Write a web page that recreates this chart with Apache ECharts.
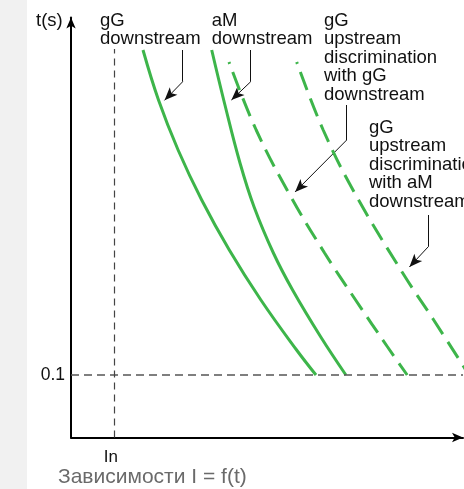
<!DOCTYPE html>
<html>
<head>
<meta charset="utf-8">
<script src="https://cdn.jsdelivr.net/npm/echarts@6/dist/echarts.min.js"></script>
<style>
  html, body { margin: 0; padding: 0; background: #fff; }
  #chart { width: 464px; height: 489px; }
</style>
</head>
<body>
<div id="chart"></div>
<script>
// schematic axes: 1 unit = 1 px, x = current I, y = time t
var X_MAX = 392;
var Y_MAX = 420;
var T_01 = 62.5;      // t = 0.1 s
var I_N = 43.3;       // In
var IN_TOP = 388.5;

var yTickLabels = ['0.1'];
var xTickLabels = ['In'];

// time-current curves
var gGDownstream = [[72, 387.5], [87.5, 337.5], [107.1, 287.5], [130.7, 237.5],
                    [158.3, 187.5], [189.9, 137.5], [225.6, 87.5], [245, 62.5]];
var aMDownstream = [[140.7, 387.5], [153.7, 333.5], [169, 274.5], [183.1, 230.5],
                    [202.4, 184.5], [221.6, 147.5], [249.8, 100.5], [274.9, 62.5]];
var gGUpstreamGg = [[158, 375.5], [185.2, 307.5], [220, 240.5], [253.6, 184.5],
                    [284.6, 137.5], [316.6, 90.5], [336.2, 62.5]];
var gGUpstreamAm = [[225.7, 375.5], [252.2, 307.5], [283.7, 244.5], [331.7, 164.5],
                    [362.7, 117.5], [398, 62.5]];

// callouts: [stem top, stem bottom, arrow tip]
var callouts = [
  [[111.7, 387.5], [111.7, 355.8], [89, 332.5]],
  [[179.7, 387.5], [179.7, 355.8], [155.7, 333]],
  [[275.7, 332.5], [275.7, 297.5], [219.5, 241]],
  [[357.3, 222.5], [357.3, 190.8], [334, 165.8]]
];

var GREEN = '#3db54a';
var FONT = "'Liberation Sans', Arial, sans-serif";
var ARROW_W = 8, ARROW_H = 13;

var calloutData = [];
callouts.forEach(function (c) {
  calloutData.push({ coords: [c[0], c[1]], symbol: ['none', 'none'] });
  // pull the end back so the arrow tip lands on the curve
  var dx = c[2][0] - c[1][0], dy = c[2][1] - c[1][1];
  var len = Math.sqrt(dx * dx + dy * dy);
  var k = (len - ARROW_H / 2) / len;
  calloutData.push({
    coords: [c[1], [c[1][0] + dx * k, c[1][1] + dy * k]],
    symbol: ['none', 'arrow'],
    symbolSize: [0, [ARROW_W, ARROW_H]]
  });
});

function curve(name, data, dashed) {
  return {
    name: name,
    type: 'line',
    data: data,
    smooth: 0.4,
    showSymbol: false,
    symbol: 'none',
    silent: true,
    lineStyle: dashed
      ? { color: GREEN, width: 3, type: [19, 9], dashOffset: 17 }
      : { color: GREEN, width: 3 }
  };
}

var series = [
  curve('gG downstream', gGDownstream, false),
  curve('aM downstream', aMDownstream, false),
  curve('gG upstream / gG downstream', gGUpstreamGg, true),
  curve('gG upstream / aM downstream', gGUpstreamAm, true),
  {
    type: 'lines',
    coordinateSystem: 'cartesian2d',
    silent: true,
    lineStyle: { color: '#111', width: 1, opacity: 1, curveness: 0 },
    data: calloutData,
    z: 3
  }
];

series[0].markLine = {
  silent: true,
  symbol: ['none', 'none'],
  label: { show: false },
  data: [
    [{ coord: [0, T_01], lineStyle: { color: '#555', width: 1.6, type: [8, 5] } },
     { coord: [X_MAX, T_01] }],
    [{ coord: [I_N, 0], lineStyle: { color: '#444', width: 1.2, type: [7, 5] } },
     { coord: [I_N, IN_TOP] }]
  ]
};

function label(x, y, txt) {
  return {
    type: 'text', left: x, top: y, silent: true,
    style: { text: txt, fill: '#111', font: '18.5px ' + FONT, lineHeight: 18.5 }
  };
}

var option = {
  backgroundColor: '#fff',
  animation: false,
  grid: { left: 71, top: 17.5, width: X_MAX, height: Y_MAX },
  xAxis: {
    type: 'value', min: 0, max: X_MAX,
    axisLine: { lineStyle: { color: '#000', width: 2 }, symbol: ['none', 'arrow'], symbolSize: [7, 11] },
    axisTick: { show: false },
    splitLine: { show: false },
    axisLabel: {
      customValues: [I_N],
      formatter: function () { return xTickLabels[0]; },
      margin: 11, color: '#111', fontSize: 17, fontFamily: FONT,
      padding: [0, 7, 0, 0]
    }
  },
  yAxis: {
    type: 'value', min: 0, max: Y_MAX,
    axisLine: { lineStyle: { color: '#000', width: 2 }, symbol: ['none', 'arrow'], symbolSize: [7, 11] },
    axisTick: { show: false },
    splitLine: { show: false },
    axisLabel: {
      customValues: [T_01],
      formatter: function () { return yTickLabels[0]; },
      margin: 6, color: '#111', fontSize: 17.5, fontFamily: FONT
    }
  },
  graphic: [
    { type: 'rect', left: 0, top: 0, z: -10, silent: true,
      shape: { width: 27, height: 489 }, style: { fill: '#f1f1f1' } },
    label(36, 11, 't(s)'),
    label(100, 11, 'gG\ndownstream'),
    label(211.7, 11, 'aM\ndownstream'),
    label(324, 11, 'gG\nupstream\ndiscrimination\nwith gG\ndownstream'),
    label(369, 118, 'gG\nupstream\ndiscrimination\nwith aM\ndownstream'),
    { type: 'text', left: 58, top: 467, silent: true,
      style: { text: 'Зависимости I = f(t)', fill: '#6a6a6a', font: '21px ' + FONT } }
  ],
  series: series
};

var chart = echarts.init(document.getElementById('chart'));
chart.setOption(option);
</script>
</body>
</html>
